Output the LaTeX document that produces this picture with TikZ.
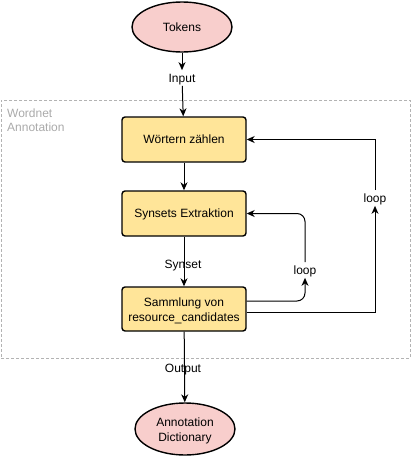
\documentclass[tikz,border=0pt]{standalone}
\usepackage{fontspec}
\setmainfont{Liberation Sans}
\usetikzlibrary{arrows.meta,shapes.geometric}
\definecolor{ellfill}{HTML}{F8CECC}
\definecolor{boxfill}{HTML}{FFE599}
\definecolor{grpgray}{HTML}{B3B3B3}
\definecolor{grptext}{HTML}{AAAAAA}
\tikzset{
  base/.style={font=\fontsize{12}{15}\selectfont, text=black},
  oneline/.style={text height=10.8pt, text depth=2.5pt},
  ell/.style={base, ellipse, draw=black, line width=1.4pt, fill=ellfill, minimum width=100pt, minimum height=50pt, inner sep=0pt, align=center},
  procbox/.style={base, draw=black, line width=1.4pt, fill=boxfill, rounded corners=3pt, minimum width=124pt, minimum height=45pt, inner sep=0pt, align=center},
  lbl/.style={base, oneline, inner sep=1pt},
  arr/.style={draw=black, line width=1pt, -{Stealth[length=8pt,width=7pt,inset=2.5pt]}},
  grp/.style={draw=grpgray, line width=0.8pt, dash pattern=on 3pt off 2pt, minimum width=409pt, minimum height=258pt, inner sep=0pt},
}
\begin{document}
\begin{tikzpicture}[x=1pt,y=-1pt]
\useasboundingbox (0,0) rectangle (413,456);
% group container
\node[grp] (group) at (205.5,229) {};
\node[text=grptext, anchor=north west, align=left, inner sep=0pt, font=\fontsize{12}{14}\selectfont] (grplbl) at (7,109) {Wordnet\\Annotation};
% nodes
\node[ell, oneline] (tok) at (182,27) {Tokens};
\node[lbl] (inp) at (182,78) {Input};
\node[procbox, oneline] (w) at (184,139.5) {Wörtern zählen};
\node[procbox, oneline] (s) at (184,213.5) {Synsets Extraktion};
\node[procbox, minimum height=44pt] (m) at (184,309) {};
\node[base, align=center] (mtext) at (184,311) {Sammlung von\\resource\_candidates};
\node[ell, minimum height=52pt] (ad) at (185,429) {};
\node[base, align=center] (adtext) at (185,430.5) {Annotation\\Dictionary};
\node[lbl] (l1) at (305,270) {loop};
\node[lbl] (l2) at (375,198) {loop};
% connectors
\draw[arr] (tok) -- (inp);
\draw[arr] (inp) -- (w);
\draw[arr] (w) -- (s);
\draw[arr] (s) -- (m);
\node[lbl] (syn) at (183,264) {Synset};
\draw[arr] (m) -- (ad);
\node[lbl] (out) at (183,368) {Output};
\draw[arr, rounded corners=8pt] ([yshift=8pt]m.east) -| (l1.south);
\draw[arr, rounded corners=8pt] (l1.north) |- (s.east);
\draw[arr] ([yshift=-3pt]m.east) -| (l2.south);
\draw[arr] (l2.north) |- (w.east);
\end{tikzpicture}
\end{document}
